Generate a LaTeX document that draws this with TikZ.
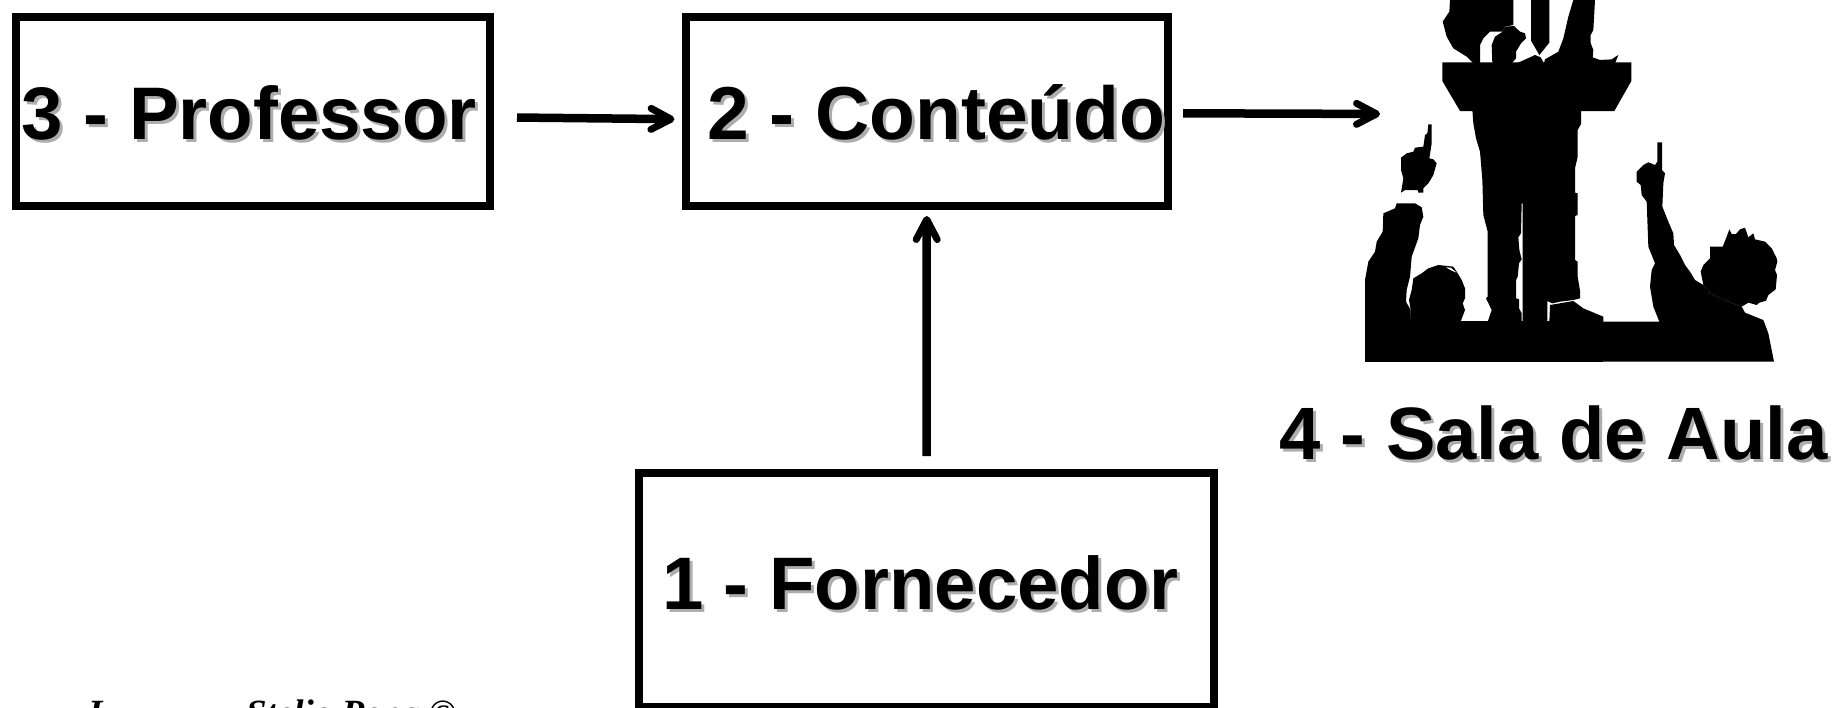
\documentclass[tikz,border=0pt]{standalone}
\usepackage{fontspec}
\setmainfont{Liberation Sans}
\newfontfamily\footfont{Liberation Serif}
\usetikzlibrary{arrows.meta}
\definecolor{shadowgray}{gray}{0.68}
\newcommand{\shadowed}[1]{\leavevmode\rlap{\kern3pt\raisebox{-3pt}{\textcolor{shadowgray}{#1}}}#1}
\tikzset{
  panel/.style={draw=black,line width=8pt,fill=none,inner sep=0pt,outer sep=0pt,minimum width=#1},
  title/.style={anchor=base west,inner sep=0pt,outer sep=0pt,font=\fontsize{#1}{#1}\selectfont\bfseries},
  credit/.style={anchor=base west,inner sep=0pt,outer sep=0pt,font=\footfont\fontsize{37}{37}\selectfont\bfseries\itshape},
  conn/.style={line width=8.5pt,draw=black,-{Straight Barb[length=20pt,width=21pt,line width=7pt,round]}},
  sil/.style={fill=black,draw=none},
  zs/.style 2 args={shift={(#1,#2)},x=.33333pt,y=-.33333pt}
}
\begin{document}
\begin{tikzpicture}[x=1pt,y=-1pt]
\useasboundingbox (0,0) rectangle (1833,707);
\clip (0,0) rectangle (1833,707);
\fill[white] (0,0) rectangle (1833,707);

% boxes
\node[panel=474.5pt,minimum height=189.5pt] (prof) at (252.75,111.25) {};
\node[panel=482.5pt,minimum height=189.5pt] (cont) at (926.75,111.25) {};
\node[panel=575pt,minimum height=234pt] (forn) at (926.5,590) {};

% room silhouette
\begin{scope}[zs={1420}{0}]
\fill[sil] (90,0)--(88,35)--(68,65)--(80,110)--(100,145)--(140,170)--(160,190)--(180,190)--(180,135)--(190,115)--(210,95)--(248,95)--(255,80)--(280,75)--(280,0)--cycle;
\fill[sil] (217,190)--(215,135)--(225,110)--(248,95)--(255,80)--(282,78)--(300,95)--(315,100)--(318,115)--(303,130)--(288,155)--(288,175)--(275,190)--cycle;
\fill[sil] (333,0)--(388,0)--(388,128)--(358,165)--(333,122)--cycle;
\fill[sil] (290,190)--(330,172)--(345,165)--(362,172)--(372,190)--cycle;
\fill[sil] (460,0)--(525,0)--(520,90)--(512,105)--(512,130)--(520,150)--(518,172)--(540,180)--(575,178)--(590,168)--(595,165)--(585,190)--(372,190)--(375,178)--(415,155)--(430,115)--(445,50)--cycle;
\fill[sil] (67,187)--(634,187)--(634,243)--(583,333)--(120,333)--(67,243)--cycle;
\end{scope}
\begin{scope}[zs={1440}{100}]
\fill[sil] (97,30)--(423,30)--(423,72)--(413,90)--(413,170)--(405,205)--(405,278)--(413,280)--(413,345)--(405,348)--(405,480)--(413,485)--(413,530)--(420,572)--(420,595)--(400,600)--(360,605)--(337,610)--(322,603)--(322,665)--(248,665)--(248,310)--(245,310)--(243,400)--(235,412)--(238,450)--(245,478)--(237,490)--(233,530)--(228,540)--(228,595)--(237,598)--(237,625)--(245,640)--(245,665)--(143,665)--(155,630)--(138,595)--(143,590)--(143,395)--(130,345)--(127,240)--(120,155)--(108,115)--(100,70)--cycle;
\fill[sil] (328,665)--(330,615)--(400,603)--(430,625)--(490,650)--(490,665)--cycle;
\end{scope}
\begin{scope}[zs={1360}{110}]
\fill[sil] (15,755)--(15,510)--(25,455)--(45,425)--(50,395)--(68,365)--(70,310)--(105,295)--(110,280)--(165,280)--(185,292)--(190,320)--(180,345)--(175,385)--(155,440)--(150,500)--(140,540)--(138,575)--(152,600)--(152,640)--(15,640)--cycle;
\fill[sil] (150,640)--(152,600)--(147,570)--(155,540)--(160,505)--(185,490)--(205,475)--(235,465)--(280,470)--(290,485)--(305,510)--(315,535)--(315,565)--(308,580)--(315,600)--(300,640)--cycle;
\fill[white] (258,472)--(272,473)--(290,488)--(275,482)--cycle;
\fill[sil] (123,143)--(140,130)--(160,125)--(165,113)--(190,110)--(195,75)--(202,70)--(205,43)--(215,43)--(215,100)--(208,145)--(220,148)--(230,160)--(220,195)--(205,220)--(190,235)--(190,248)--(175,248)--(173,240)--(135,240)--(123,248)--(130,205)--(123,180)--cycle;
\fill[sil] (15,633) rectangle (730,755);
\end{scope}
\begin{scope}[zs={1600}{130}]
\fill[sil] (178,575)--(160,530)--(150,470)--(155,420)--(165,400)--(145,350)--(140,215)--(125,195)--(122,165)--(110,155)--(110,125)--(130,105)--(145,97)--(165,105)--(172,95)--(172,37)--(186,37)--(186,120)--(195,130)--(190,160)--(187,230)--(205,275)--(220,310)--(222,345)--(240,375)--(255,405)--(270,425)--(285,450)--(310,465)--(330,490)--(385,515)--(425,530)--(435,548)--(490,570)--(505,610)--(515,660)--(522,695)--(0,695)--(0,575)--cycle;
\fill[sil] (302,425)--(310,405)--(330,385)--(330,350)--(368,350)--(380,320)--(388,298)--(395,312)--(408,312)--(420,298)--(435,293)--(445,322)--(460,310)--(465,328)--(495,335)--(515,355)--(530,385)--(532,395)--(525,420)--(531,435)--(527,478)--(505,495)--(498,512)--(478,518)--(470,525)--(445,518)--(425,530)--(385,515)--(330,490)--(310,465)--cycle;
\end{scope}
\coordinate (sala) at (1400,114);

% connectors
\draw[conn,shorten <=27pt,shorten >=11pt] ([yshift=-6pt]prof.east) -- ([yshift=-8pt]cont.west);
\draw[conn,shorten <=15pt,shorten >=20pt] ([yshift=-2pt]cont.east) -- (sala);
\draw[conn,shorten <=17pt,shorten >=10pt] (forn.north) -- (cont.south);

% labels
\node[title=74.5] (lprof) at (21.5,139.5) {\shadowed{3 - Professor}};
\node[title=75] (lcont) at (707,139) {\shadowed{2 - Conteúdo}};
\node[title=74.4] (lforn) at (662,609.5) {\shadowed{1 - Fornecedor}};
\node[title=74.2] (lsala) at (1279,459.5) {\shadowed{4 - Sala de Aula}};
\node[credit] (cred1) at (88,725.5) {I};
\node[credit] (cred2) at (246,725.5) {Stelio Pena ©};
\end{tikzpicture}
\end{document}
